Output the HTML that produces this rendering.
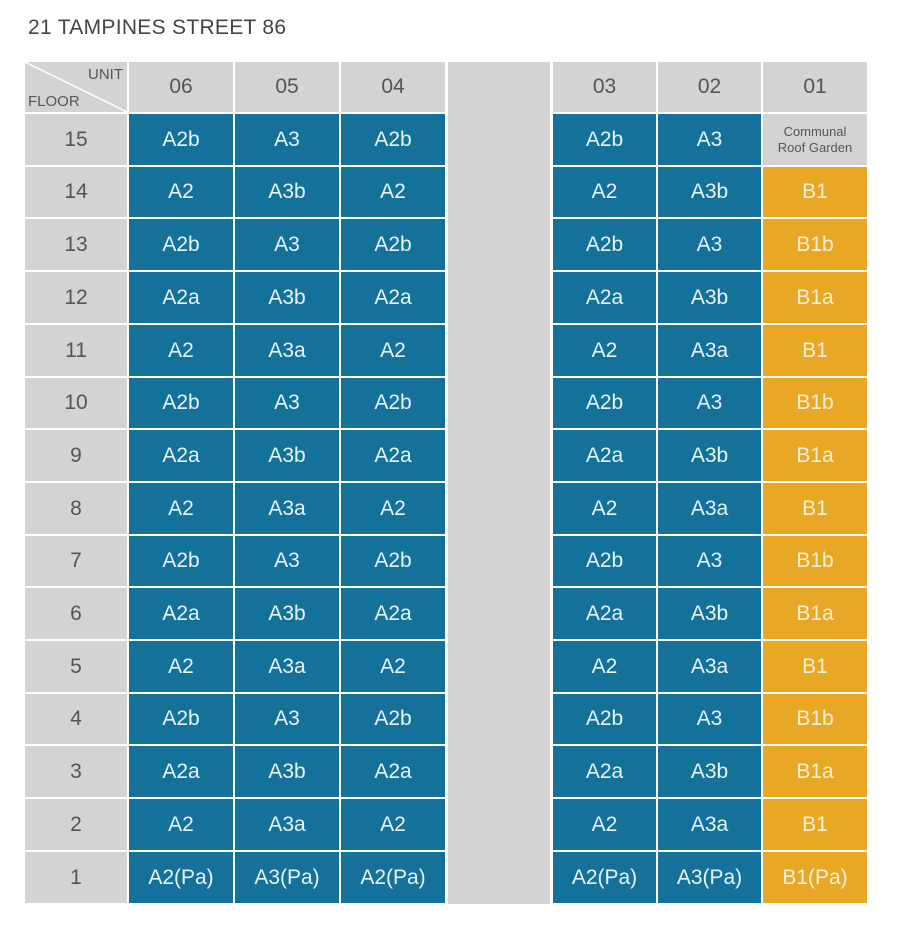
<!DOCTYPE html>
<html><head><meta charset="utf-8"><style>
body{margin:0;background:#fff;width:900px;height:930px;position:relative;overflow:hidden;font-family:"Liberation Sans","DejaVu Sans",sans-serif}
.c{position:absolute;display:flex;align-items:center;justify-content:center;font-size:21px}
.g{background:#d3d3d3;color:#555}
.b{background:#14719a;color:#e8f4fa}
.o{background:#e9a726;color:#fdf1d6}
</style></head><body>
<div style="position:absolute;left:28px;top:16px;font-size:21px;color:#444;letter-spacing:0.3px">21 TAMPINES STREET 86</div>
<div id="t"></div>
<script>
const xs=[[25,102],[129,104],[235,104],[341,104],[553,103],[658,103],[763,104]];
const t=document.getElementById('t');
let h='';
// gap column
h+=`<div class="c g" style="left:448px;top:62px;width:102px;height:842px"></div>`;
// header
h+=`<div class="c g" style="left:25px;top:62px;width:102px;height:50px"><svg width="102" height="50" style="position:absolute;left:0;top:0"><line x1="0" y1="0" x2="102" y2="50" stroke="#fff" stroke-width="1.5"/></svg><span style="position:absolute;right:4px;top:4px;font-size:15px">UNIT</span><span style="position:absolute;left:3px;bottom:2px;font-size:15px">FLOOR</span></div>`;
const hd=['06','05','04','03','02','01'];
hd.forEach((s,i)=>{const [x,w]=xs[i+1];h+=`<div class="c g" style="left:${x}px;top:62px;width:${w}px;height:50px">${s}</div>`});
const L=[['A2b','A3','A2b'],['A2','A3b','A2'],['A2b','A3','A2b'],['A2a','A3b','A2a'],['A2','A3a','A2']];
const R=[['A2b','A3','B1b'],['A2','A3b','B1'],['A2b','A3','B1b'],['A2a','A3b','B1a'],['A2','A3a','B1']];
for(let i=0;i<15;i++){
 const fl=15-i;const y=Math.round(114+i*52.7);const hh=Math.round(114+(i+1)*52.7)-y-2;
 h+=`<div class="c g" style="left:25px;top:${y}px;width:102px;height:${hh}px">${fl}</div>`;
 let row;
 if(fl==15) row=['A2b','A3','A2b','A2b','A3','CR'];
 else if(fl==1) row=['A2(Pa)','A3(Pa)','A2(Pa)','A2(Pa)','A3(Pa)','B1(Pa)'];
 else { // cycle pattern
  const m={14:1,13:0,12:3,11:4,10:0,9:3,8:4,7:0,6:3,5:4,4:0,3:3,2:4}[fl];
  let l=L[m],r=R[m];
  if(fl==14){l=['A2','A3b','A2'];r=['A2','A3b','B1'];}
  row=[...l,...r];
 }
 row.forEach((s,j)=>{const [x,w]=xs[j+1];
  if(s=='CR'){h+=`<div class="c g" style="left:${x}px;top:${y}px;width:${w}px;height:${hh}px;font-size:13px;line-height:16px;text-align:center">Communal<br>Roof Garden</div>`;return;}
  const cls=j==5?'o':'b';
  h+=`<div class="c ${cls}" style="left:${x}px;top:${y}px;width:${w}px;height:${hh}px">${s}</div>`;});
}
t.innerHTML=h;
</script>
</body></html>
